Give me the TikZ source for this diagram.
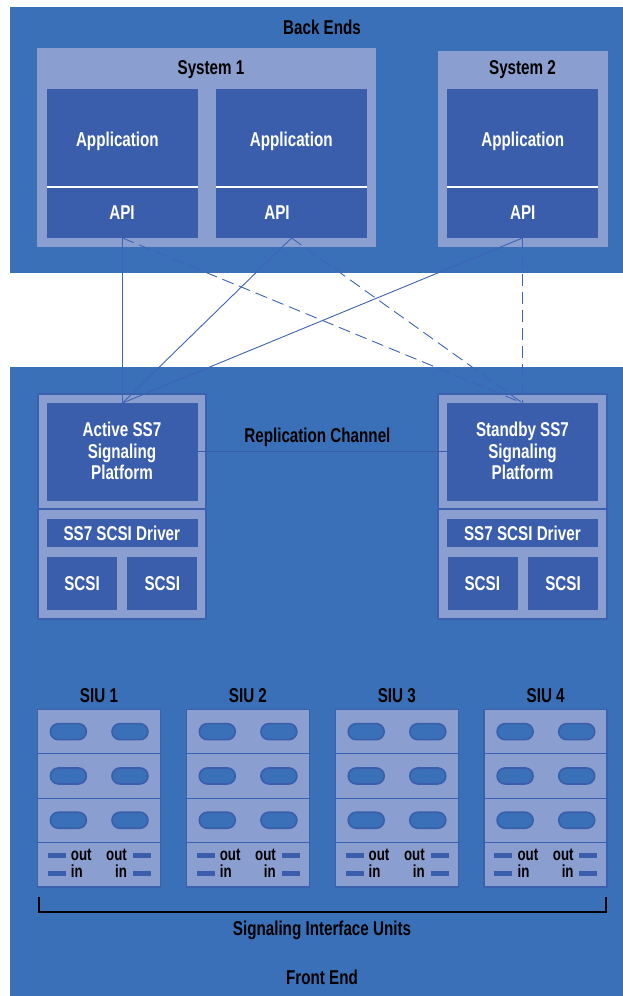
\documentclass[tikz,border=0pt]{standalone}
\usepackage{fontspec}
\setmainfont{Liberation Sans}[FakeStretch=0.76]

\definecolor{bgblue}{RGB}{57,112,184}
\definecolor{lightbox}{RGB}{138,158,207}
\definecolor{darkbox}{RGB}{58,94,172}
\definecolor{edge}{RGB}{59,96,174}
\definecolor{wire}{RGB}{62,100,180}

% rectangle node from its two corners: name, style, x1, y1, x2, y2
\newcommand\blk[6]{%
  \node[#2, minimum width={(#5-#3)*1pt}, minimum height={(#6-#4)*1pt}]
    (#1) at ({(#3+#5)/2},{(#4+#6)/2}) {};}

\tikzset{
  plain/.style={inner sep=0pt, outer sep=0pt},
  region/.style={plain, fill=bgblue},
  shell/.style={plain, fill=lightbox},
  shellb/.style={plain, fill=lightbox, draw=edge, line width=1.2pt},
  core/.style={plain, fill=darkbox},
  rowbox/.style={plain, fill=lightbox, draw=edge, line width=1pt},
  siuframe/.style={plain, draw=edge, line width=1.6pt},
  bigfont/.style={font=\bfseries\fontsize{20}{21.5}\selectfont},
  ktext/.style={plain, bigfont, text=black},
  wtext/.style={plain, bigfont, text=white, align=center},
  stext/.style={plain, font=\bfseries\fontsize{17.5}{19}\selectfont, text=black},
  pill/.style={plain, draw=darkbox, fill=bgblue, line width=1.6pt,
    rounded corners=8pt, minimum width=36pt, minimum height=16pt},
  jack/.style={plain, fill=darkbox, minimum width=18pt, minimum height=5pt},
  sepline/.style={white, line width=1.6pt},
  link/.style={wire, line width=0.9pt},
  backup/.style={link, dash pattern=on 12pt off 6pt},
  replink/.style={darkbox, line width=1pt},
  bracket/.style={black, line width=2.6pt},
}

\begin{document}
\begin{tikzpicture}[x=1pt, y=-1pt]
\fill[white] (0,0) rectangle (623,996);
\useasboundingbox (0,0) rectangle (623,996);

% ---------------- back ends ----------------
\blk{back}{region}{10}{7}{623}{273}
\node[ktext, anchor=base] (backlbl) at (322,34.3) {Back Ends};

\blk{sys1}{shell}{37}{48}{376}{247}
\blk{sys2}{shell}{438}{51}{608}{247}
\node[ktext, anchor=base] (sys1lbl) at (211,74) {System 1};
\node[ktext, anchor=base] (sys2lbl) at (522.5,74) {System 2};

\blk{app1}{core}{47}{89}{198}{187}
\blk{api1}{core}{47}{187}{198}{238}
\blk{app2}{core}{216}{89}{367}{187}
\blk{api2}{core}{216}{187}{367}{238}
\blk{app3}{core}{447}{89}{598}{187}
\blk{api3}{core}{447}{187}{598}{238}
\draw[sepline] (api1.north west) -- (api1.north east);
\draw[sepline] (api2.north west) -- (api2.north east);
\draw[sepline] (api3.north west) -- (api3.north east);

\node[wtext, anchor=base] (app1lbl) at (117.4,146) {Application};
\node[wtext, anchor=base] (app2lbl) at (291.2,146) {Application};
\node[wtext, anchor=base] (app3lbl) at (522.7,146) {Application};
\node[wtext, anchor=base] (api1lbl) at (122,219) {API};
\node[wtext, anchor=base] (api2lbl) at (277,219) {API};
\node[wtext, anchor=base] (api3lbl) at (522.7,219) {API};

% ---------------- front end ----------------
\blk{front}{region}{10}{367}{623}{996}
\node[ktext, anchor=base] (frontlbl) at (322,984) {Front End};

% active platform
\blk{actU}{shellb}{38}{394}{206}{509}
\blk{actL}{shellb}{38}{509}{206}{619}
\blk{act}{core}{47}{403}{198}{500.5}
\blk{actdrv}{core}{47}{519}{198}{546.5}
\blk{actscsiA}{core}{47}{557}{117}{610}
\blk{actscsiB}{core}{127}{557}{197}{610}

% standby platform
\blk{sbyU}{shellb}{438}{394}{607}{509}
\blk{sbyL}{shellb}{438}{509}{607}{619}
\blk{sby}{core}{447}{403}{598}{500.5}
\blk{sbydrv}{core}{447}{519}{598}{546.5}
\blk{sbyscsiA}{core}{448}{557}{518}{610}
\blk{sbyscsiB}{core}{528}{557}{598}{610}

\node[wtext] (actlbl) at (122,451) {Active SS7\\Signaling\\Platform};
\node[wtext] (sbylbl) at (522.5,451) {Standby SS7\\Signaling\\Platform};
\node[wtext, anchor=base] (actdrvlbl) at (121.8,540.5) {SS7 SCSI Driver};
\node[wtext, anchor=base] (sbydrvlbl) at (522.4,540.5) {SS7 SCSI Driver};
\node[wtext, anchor=base] (actscsiAlbl) at (82,590.7) {SCSI};
\node[wtext, anchor=base] (actscsiBlbl) at (162.3,590.7) {SCSI};
\node[wtext, anchor=base] (sbyscsiAlbl) at (482.3,590.7) {SCSI};
\node[wtext, anchor=base] (sbyscsiBlbl) at (563,590.7) {SCSI};

% replication channel
\draw[replink] (act.east) -- (sby.west);
\node[ktext, anchor=base] (replbl) at (317.4,442) {Replication Channel};

% API connections: solid to the active platform, dashed to the standby
\draw[link] (api1.south) -- (act.north);
\draw[link] (api2.south) -- (act.north);
\draw[link] (api3.south) -- (act.north);
\draw[backup] (api1.south) -- (sby.north);
\draw[backup] (api2.south) -- (sby.north);
\draw[backup] (api3.south) -- (sby.north);

% ---------------- signaling interface units ----------------
\foreach \i in {1,...,4}{
  \pgfmathsetmacro\xa{37.5+(\i-1)*148.9}
  \pgfmathsetmacro\xb{\xa+123}
  \pgfmathsetmacro\xm{\xa+61.5}
  \foreach \r in {1,...,4}{
    \pgfmathsetmacro\ya{709.5+(\r-1)*44.3}
    \pgfmathsetmacro\yb{\ya+44.3}
    \blk{siu\i-r\r}{rowbox}{\xa}{\ya}{\xb}{\yb}
  }
  \foreach \r in {1,...,3}{
    \pgfmathsetmacro\yc{709.5+(\r-0.5)*44.3}
    \node[pill] (siu\i-p\r a) at ({\xa+30.9},\yc) {};
    \node[pill] (siu\i-p\r b) at ({\xa+92.5},\yc) {};
  }
  \node[jack] (siu\i-jol) at ({\xa+19.2},855) {};
  \node[jack] (siu\i-jil) at ({\xa+19.2},873) {};
  \node[jack] (siu\i-jor) at ({\xa+104.2},855) {};
  \node[jack] (siu\i-jir) at ({\xa+104.2},873) {};
  \node[stext, anchor=base west] (siu\i-tol) at ({\xa+33.4},860) {out};
  \node[stext, anchor=base west] (siu\i-til) at ({\xa+33.4},877.5) {in};
  \node[stext, anchor=base east] (siu\i-tor) at ({\xa+89.4},860) {out};
  \node[stext, anchor=base east] (siu\i-tir) at ({\xa+89.4},877.5) {in};
  \blk{siu\i}{siuframe}{\xa}{709.5}{\xb}{886.7}
  \node[ktext, anchor=base] (siu\i-lbl) at (\xm,702.7) {SIU \i};
}

% bracket grouping the units
\coordinate (brLt) at (38.8,896.7);
\coordinate (brLb) at (38.8,912);
\coordinate (brRb) at (606,912);
\coordinate (brRt) at (606,896.7);
\draw[bracket] (brLt) -- (brLb) -- (brRb) -- (brRt);
\node[ktext, anchor=base] (siulbl) at (322,935) {Signaling Interface Units};
\end{tikzpicture}
\end{document}
